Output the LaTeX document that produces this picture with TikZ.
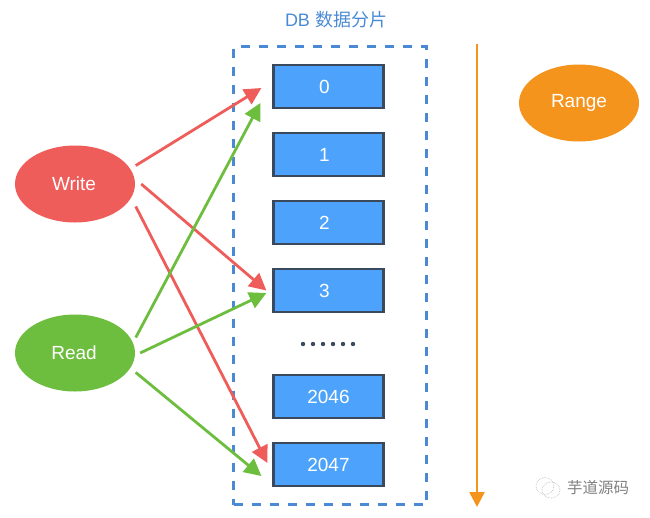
\documentclass[tikz,border=0pt]{standalone}
\usepackage{fontspec}
\setmainfont{Liberation Sans}
\newfontfamily\cjkfont{Noto Sans CJK SC}
\usetikzlibrary{arrows.meta,shapes.geometric}
\definecolor{redc}{HTML}{EE5D5A}
\definecolor{greenc}{HTML}{6DBD3F}
\definecolor{bluefill}{HTML}{4DA3FB}
\definecolor{boxline}{HTML}{3A4A5C}
\definecolor{dashc}{HTML}{4A8AD4}
\definecolor{orangec}{HTML}{F5941D}
\tikzset{
  shard/.style={draw=boxline,line width=2.2pt,fill=bluefill,minimum width=110pt,minimum height=43.5pt,inner sep=0pt,text=white,font=\fontsize{19}{22}\selectfont},
  blob/.style={ellipse,minimum width=120pt,minimum height=77pt,inner sep=0pt,text=white,font=\fontsize{19}{22}\selectfont},
  conn/.style={line width=2.8pt,-{Triangle[length=17pt,width=17pt]}},
  redconn/.style={conn,draw=redc},
  greenconn/.style={conn,draw=greenc},
}
\begin{document}
\begin{tikzpicture}[x=1pt,y=-1pt]
\useasboundingbox (0,0) rectangle (650,517);
% container
\node[draw=dashc,line width=2.6pt,dash pattern=on 9pt off 9pt,minimum width=193pt,minimum height=458pt,inner sep=0pt] (db) at (330,275.5) {};
\node[text=dashc,font=\fontsize{18}{22}\selectfont,inner sep=0pt] (title) at (336,20) {DB {\cjkfont 数据分片}};
% shards
\node[shard] (b0) at (328.5,86.5) {0\kern8pt};
\node[shard] (b1) at (328.5,154.5) {1\kern8pt};
\node[shard] (b2) at (328.5,222.5) {2\kern8pt};
\node[shard] (b3) at (328.5,290.5) {3\kern8pt};
\node[shard] (b4) at (328.5,396.5) {2046};
\node[shard] (b5) at (328.5,464.5) {2047};
% dots
\foreach \i in {0,...,5}{\fill[boxline] (303+\i*10,344) circle (2.2pt);}
% ellipses
\node[blob,fill=redc] (w) at (75,184) {\raisebox{-1pt}{Write}\kern2pt};
\node[blob,fill=greenc] (r) at (75,353) {\raisebox{-1pt}{Read}\kern2pt};
\node[blob,fill=orangec] (range) at (579,103) {\raisebox{-1.5pt}{Range}};
% connectors
\draw[redconn] ([shift={(7,-1)}]w.18) -- ([shift={(-11,1.5)}]b0.west);
\draw[redconn] ([shift={(6,0)}]w.east) -- ([shift={(-6,0)}]b3.west);
\draw[redconn] ([shift={(7,5)}]w.-18) -- ([shift={(-5,-1.5)}]b5.west);
\draw[greenconn] ([shift={(7,2)}]r.18) -- ([shift={(-12,16.5)}]b0.west);
\draw[greenconn] ([shift={(5,0)}]r.east) -- ([shift={(-6,2.5)}]b3.west);
\draw[greenconn] ([shift={(7,2)}]r.-18) -- ([shift={(-11,11.5)}]b5.west);
% range axis
\coordinate (axisTop) at (477,44);
\coordinate (axisEnd) at (477,507);
\draw[line width=2.4pt,draw=orangec,-{Triangle[length=15pt,width=15pt]}] (axisTop) -- (axisEnd);
% watermark
\begin{scope}[draw=black!30,line width=.6pt,densely dotted]
\draw (545,486) ellipse (9pt and 8.5pt);
\draw (551,490) ellipse (9pt and 8pt);
\end{scope}
\node[text=black!50,font=\fontsize{15.5}{18}\selectfont\cjkfont,inner sep=0pt] (wm) at (598,488) {芋道源码};
\end{tikzpicture}
\end{document}
